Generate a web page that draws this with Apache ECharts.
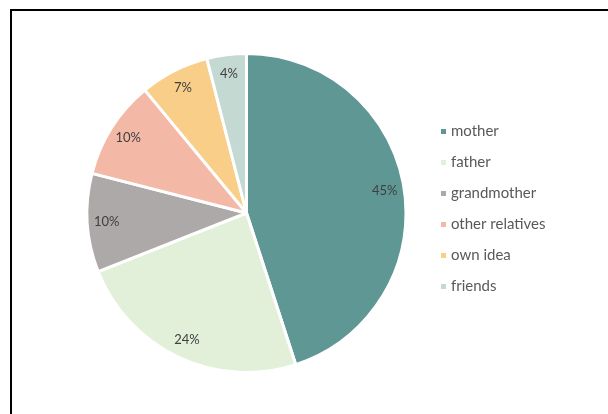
<!DOCTYPE html>
<html>
<head>
<meta charset="utf-8">
<script src="https://cdn.jsdelivr.net/npm/echarts@6/dist/echarts.min.js"></script>
<style>
  html, body { margin: 0; padding: 0; background: #fff; }
  #chart { width: 608px; height: 414px; }
</style>
</head>
<body>
<div id="chart"></div>
<script>
// Who influenced the decision — share of respondents
const categories = ['mother', 'father', 'grandmother', 'other relatives', 'own idea', 'friends'];
const shares = [45, 24, 10, 10, 7, 4];
const colors = ['#5F9795', '#E2F0DA', '#ADA9A9', '#F4B9A6', '#F8CE88', '#C5D9D3'];

const pieData = categories.map((name, i) => ({ name: name, value: shares[i] }));

const center = [246.5, 213];
const font = 'Lato, "Open Sans", sans-serif';

const chart = echarts.init(document.getElementById('chart'), null, { renderer: 'canvas' });
chart.setOption({
  animation: false,
  color: colors,
  graphic: [{
    type: 'rect',
    shape: { x: 11, y: 10, width: 640, height: 440 },
    style: { fill: 'none', stroke: '#000', lineWidth: 2 },
    silent: true
  }],
  legend: {
    orient: 'vertical',
    left: 434,
    top: 119,
    itemWidth: 7,
    itemHeight: 7,
    itemGap: 16,
    icon: 'rect',
    textStyle: { fontFamily: font, fontSize: 15, color: '#595959', padding: [0, 0, 0, -1] },
    data: categories
  },
  series: [
    {
      type: 'pie',
      center: center,
      radius: [0, 159.5],
      startAngle: 90,
      clockwise: true,
      data: pieData,
      itemStyle: { borderColor: '#fff', borderWidth: 3 },
      label: { show: false },
      labelLine: { show: false },
      emphasis: { disabled: true }
    },
    {
      // label ring: transparent copy that places the percentages near the rim
      type: 'pie',
      center: center,
      radius: [0, 274],
      startAngle: 90,
      clockwise: true,
      silent: true,
      data: pieData,
      itemStyle: { color: 'rgba(0,0,0,0)', borderWidth: 0 },
      label: {
        show: true,
        position: 'inside',
        formatter: '{d}%',
        fontFamily: font,
        fontSize: 13,
        color: '#404040'
      },
      labelLine: { show: false },
      emphasis: { disabled: true }
    }
  ]
});
</script>
</body>
</html>
